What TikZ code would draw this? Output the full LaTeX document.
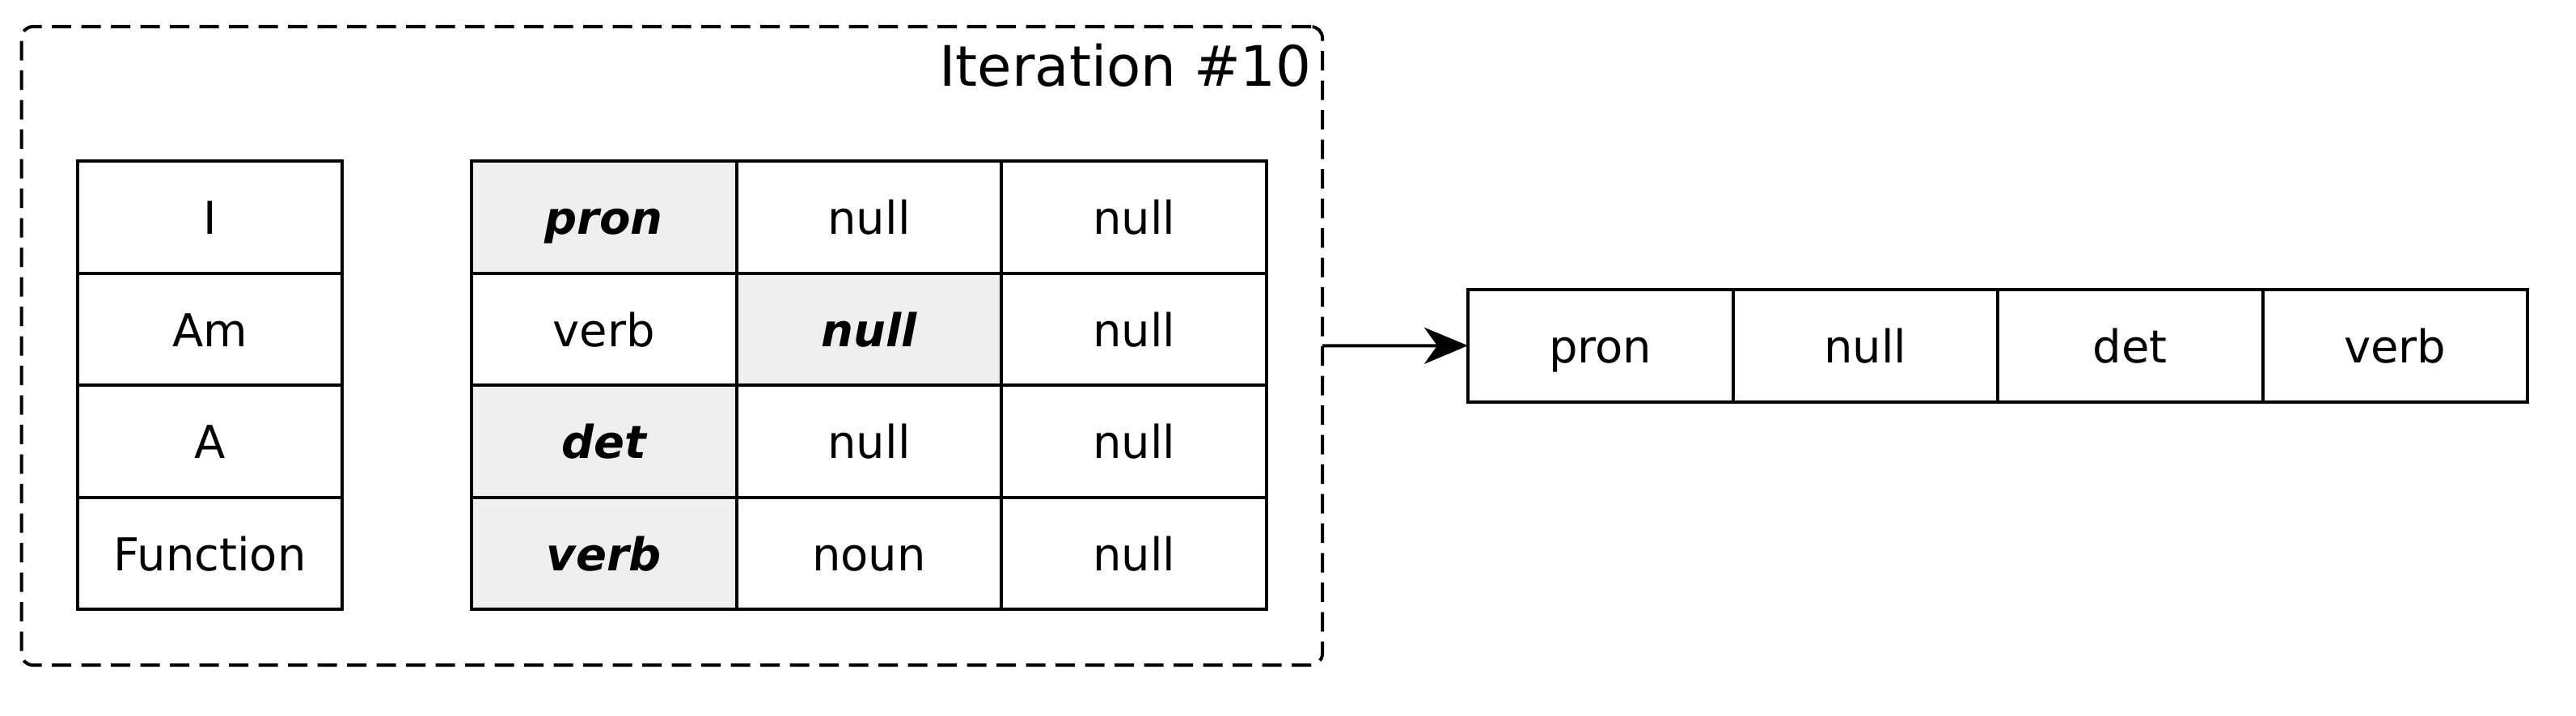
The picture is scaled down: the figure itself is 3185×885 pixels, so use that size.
\documentclass[tikz,border=0pt]{standalone}
\usepackage{fontspec}
\setmainfont{DejaVu Sans}
\usetikzlibrary{arrows.meta}
\definecolor{cellgray}{HTML}{EFEFEF}
\tikzset{
  cell/.style={draw=black, line width=4pt, fill=white, minimum width=327.6pt, minimum height=138.5pt,
    inner sep=0pt, outer sep=0pt, text height=43pt, text depth=0pt, font=\fontsize{56}{60}\selectfont},
  hicell/.style={cell, fill=cellgray, font=\fontsize{56}{60}\selectfont\bfseries\itshape},
  itbox/.style={draw=black, line width=4pt, dash pattern=on 24pt off 12.5pt, rounded corners=14pt,
    minimum width=1608.5pt, minimum height=789pt, inner sep=0pt, outer sep=0pt},
  conn/.style={line width=4pt, -{Stealth[length=54pt, width=45pt, inset=16pt]}}
}
\begin{document}
\begin{tikzpicture}[x=1pt, y=-1pt]
\useasboundingbox (0,0) rectangle (3185,885);
\node[itbox] (iter) at (830.75,427.5) {};
\node[anchor=base east, inner sep=0pt, font=\fontsize{69}{74}\selectfont] (title) at (1622,107) {Iteration \#10};
% left column
\node[cell] (w1) at (259.5,268.25) {I};
\node[cell] (w2) at (259.5,406.75) {Am};
\node[cell] (w3) at (259.5,545.25) {A};
\node[cell] (w4) at (259.5,683.75) {Function};
% table
\node[hicell] (t11) at (746.8,268.25) {pron};
\node[cell] (t12) at (1074.5,268.25) {null};
\node[cell] (t13) at (1402.2,268.25) {null};
\node[cell] (t21) at (746.8,406.75) {verb};
\node[hicell] (t22) at (1074.5,406.75) {null};
\node[cell] (t23) at (1402.2,406.75) {null};
\node[hicell] (t31) at (746.8,545.25) {det};
\node[cell] (t32) at (1074.5,545.25) {null};
\node[cell] (t33) at (1402.2,545.25) {null};
\node[hicell] (t41) at (746.8,683.75) {verb};
\node[cell] (t42) at (1074.5,683.75) {noun};
\node[cell] (t43) at (1402.2,683.75) {null};
% result row
\node[cell, minimum width=327.5pt, minimum height=139pt] (r1) at (1978.75,427.2) {pron};
\node[cell, minimum width=327.5pt, minimum height=139pt] (r2) at (2306.25,427.2) {null};
\node[cell, minimum width=327.5pt, minimum height=139pt] (r3) at (2633.75,427.2) {det};
\node[cell, minimum width=327.5pt, minimum height=139pt] (r4) at (2961.25,427.2) {verb};
\draw[conn] (iter.east) -- (r1.west);
\end{tikzpicture}
\end{document}
